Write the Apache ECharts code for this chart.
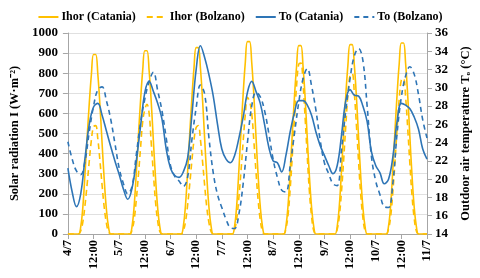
<!DOCTYPE html>
<html>
<head>
<meta charset="utf-8">
<script src="https://cdn.jsdelivr.net/npm/echarts@6/dist/echarts.min.js"></script>
<style>html,body{margin:0;padding:0;background:#fff}#c{width:480px;height:278px}</style>
</head>
<body>
<div id="c"></div>
<script>
var dayLabels = ['4/7','5/7','6/7','7/7','8/7','9/7','10/7','11/7'];
var seriesNames = ['Ihor (Catania)','Ihor (Bolzano)','To (Catania)','To (Bolzano)'];
// hourly solar radiation (W/m2), hours 0..168
var ihorCatania = [
0,0,0,0,0, 0,35,135,300,480,650,795,893,893,795,640,450,270,125,35,0, 0,0,0,
0,0,0,0,0, 0,37,140,305,490,665,815,912,912,812,655,462,278,130,37,0, 0,0,0,
0,0,0,0,0, 0,38,142,310,498,676,828,927,927,826,667,470,282,132,38,0, 0,0,0,
0,0,0,0,0, 0,39,146,320,514,698,854,957,957,853,688,485,291,136,39,0, 0,0,0,
0,0,0,0,0, 0,38,143,314,503,684,836,937,937,836,675,475,285,133,38,0, 0,0,0,
0,0,0,0,0, 0,38,143,315,506,688,840,942,942,840,678,478,287,134,38,0, 0,0,0,
0,0,0,0,0, 0,39,144,318,510,693,847,950,950,847,684,482,289,135,39,0, 0,0,0,
0];
var ihorBolzano = [
0,0,0,0,0, 0,16,60,143,248,363,468,534,539,473,363,242,132,55,11,0, 0,0,0,
0,0,0,0,0, 0,20,72,170,295,430,560,620,645,600,450,300,160,65,13,0, 0,0,0,
0,0,0,0,0, 0,16,60,143,248,363,468,530,540,470,360,240,130,55,11,0, 0,0,0,
0,0,0,0,0, 0,21,77,182,315,462,595,680,660,600,462,308,168,70,14,0, 0,0,0,
0,0,0,0,0, 0,26,96,226,392,574,740,845,850,748,574,383,209,87,17,0, 0,0,0,
0,0,0,0,0, 0,24,90,212,367,538,693,790,798,700,538,358,196,82,16,0, 0,0,0,
0,0,0,0,0, 0,24,87,205,355,521,672,766,774,680,521,348,190,79,16,0, 0,0,0,
0];
// outdoor air temperature (°C), every 2 hours, hours 0..168
var toCatania = [
21.2,18.6,17.0,18.4,22.3,26.0,27.9,28.3,27.0,25.3,23.6,22.0,
20.5,18.9,17.8,19.0,22.0,25.8,29.5,30.7,29.6,28.3,26.6,23.3,
21.2,20.4,20.2,20.8,22.3,27.0,32.0,34.6,33.3,31.4,29.1,26.0,
23.3,22.2,21.8,22.6,24.5,26.8,29.5,30.7,29.6,28.3,26.0,23.5,
22.0,21.8,20.8,22.6,25.2,27.3,28.6,28.6,28.1,27.0,25.2,23.7,
22.6,21.5,20.6,21.5,24.8,28.6,29.8,29.2,29.1,28.0,26.3,23.0,
21.5,20.7,19.5,20.0,22.4,26.3,28.3,28.1,27.7,26.8,25.5,23.3,
22.2];
var toBolzano = [
24.1,22.2,20.9,20.5,22.0,25.2,28.0,29.8,30.1,28.6,26.6,23.9,
21.2,19.5,18.4,19.2,22.7,26.2,28.8,30.7,31.7,29.7,27.5,24.5,
21.5,20.3,19.8,19.2,20.2,24.3,27.8,30.3,29.3,24.5,20.7,18.3,
16.9,15.6,14.7,14.6,16.2,19.5,24.0,28.0,29.5,29.0,27.5,25.0,
22.2,20.2,18.8,18.6,21.5,25.0,28.4,31.0,32.1,30.2,27.6,24.3,
21.8,20.6,19.5,19.3,23.2,27.5,31.0,33.5,34.3,33.0,28.0,22.5,
19.8,18.3,17.0,16.9,19.5,25.0,29.0,31.3,32.3,31.5,29.3,26.5,
24.5];

function pairs(arr, step){ return arr.map(function(v,i){ return [i*step, v]; }); }

var font = 'Liberation Serif';
var yellow = '#FFC000', blue = '#2E75B6';
var chart = echarts.init(document.getElementById('c'), null, {renderer:'canvas'});
chart.setOption({
  animation:false,
  backgroundColor:'#fff',
  textStyle:{fontFamily:font},
  legend:{
    top:6, left:'center', itemWidth:20, itemHeight:10, itemGap:10,
    itemStyle:{opacity:0},
    textStyle:{fontFamily:font, fontWeight:'bold', fontSize:12, color:'#000', padding:[0,0,0,-2]},
    data:seriesNames
  },
  grid:{left:57, right:48, top:33, bottom:44, containLabel:false},
  xAxis:{
    type:'value', min:0, max:168, interval:12,
    axisLine:{lineStyle:{color:'#a6a6a6'}},
    axisTick:{show:true, length:5, lineStyle:{color:'#a6a6a6'}},
    splitLine:{show:false},
    axisLabel:{rotate:90, fontFamily:font, fontWeight:'bold', fontSize:12.5, color:'#000', margin:6,
      formatter:function(v){ return v%24===0 ? dayLabels[v/24] : '12:00'; }}
  },
  yAxis:[{
    type:'value', min:0, max:1000, interval:100,
    name:'Solar radiation I (W·m⁻²)', nameLocation:'middle', nameGap:41, nameRotate:90,
    nameTextStyle:{fontFamily:font, fontWeight:'bold', fontSize:12.5, color:'#000'},
    axisLine:{show:true, lineStyle:{color:'#a6a6a6'}},
    axisTick:{show:true, length:5, lineStyle:{color:'#a6a6a6'}},
    splitLine:{show:true, lineStyle:{color:'#e0e0e0'}},
    axisLabel:{fontFamily:font, fontWeight:'bold', fontSize:13, color:'#000', margin:10,
      formatter:function(v){ return String(v); }}
  },{
    type:'value', min:14, max:36, interval:2, position:'right',
    name:'Outdoor air temperature T\u2092 (°C)', nameLocation:'middle', nameGap:32, nameRotate:90,
    nameTextStyle:{fontFamily:font, fontWeight:'bold', fontSize:12.5, color:'#000'},
    axisLine:{show:true, lineStyle:{color:'#a6a6a6'}},
    axisTick:{show:true, length:5, lineStyle:{color:'#a6a6a6'}},
    splitLine:{show:false},
    axisLabel:{fontFamily:font, fontWeight:'bold', fontSize:13, color:'#000', margin:8}
  }],
  series:[
    {name:seriesNames[0], type:'line', yAxisIndex:0, data:pairs(ihorCatania,1), showSymbol:false, symbol:'none', smooth:0.4,
      lineStyle:{color:yellow, width:1.6}, itemStyle:{color:yellow}},
    {name:seriesNames[1], type:'line', yAxisIndex:0, data:pairs(ihorBolzano,1), showSymbol:false, symbol:'none', smooth:0.4,
      lineStyle:{color:yellow, width:1.6, type:[6,4]}, itemStyle:{color:yellow}},
    {name:seriesNames[2], type:'line', yAxisIndex:1, data:pairs(toCatania,2), showSymbol:false, symbol:'none', smooth:0.4,
      lineStyle:{color:blue, width:1.6}, itemStyle:{color:blue}},
    {name:seriesNames[3], type:'line', yAxisIndex:1, data:pairs(toBolzano,2), showSymbol:false, symbol:'none', smooth:0.4,
      lineStyle:{color:blue, width:1.6, type:[5,4]}, itemStyle:{color:blue}}
  ]
});
</script>
</body>
</html>
